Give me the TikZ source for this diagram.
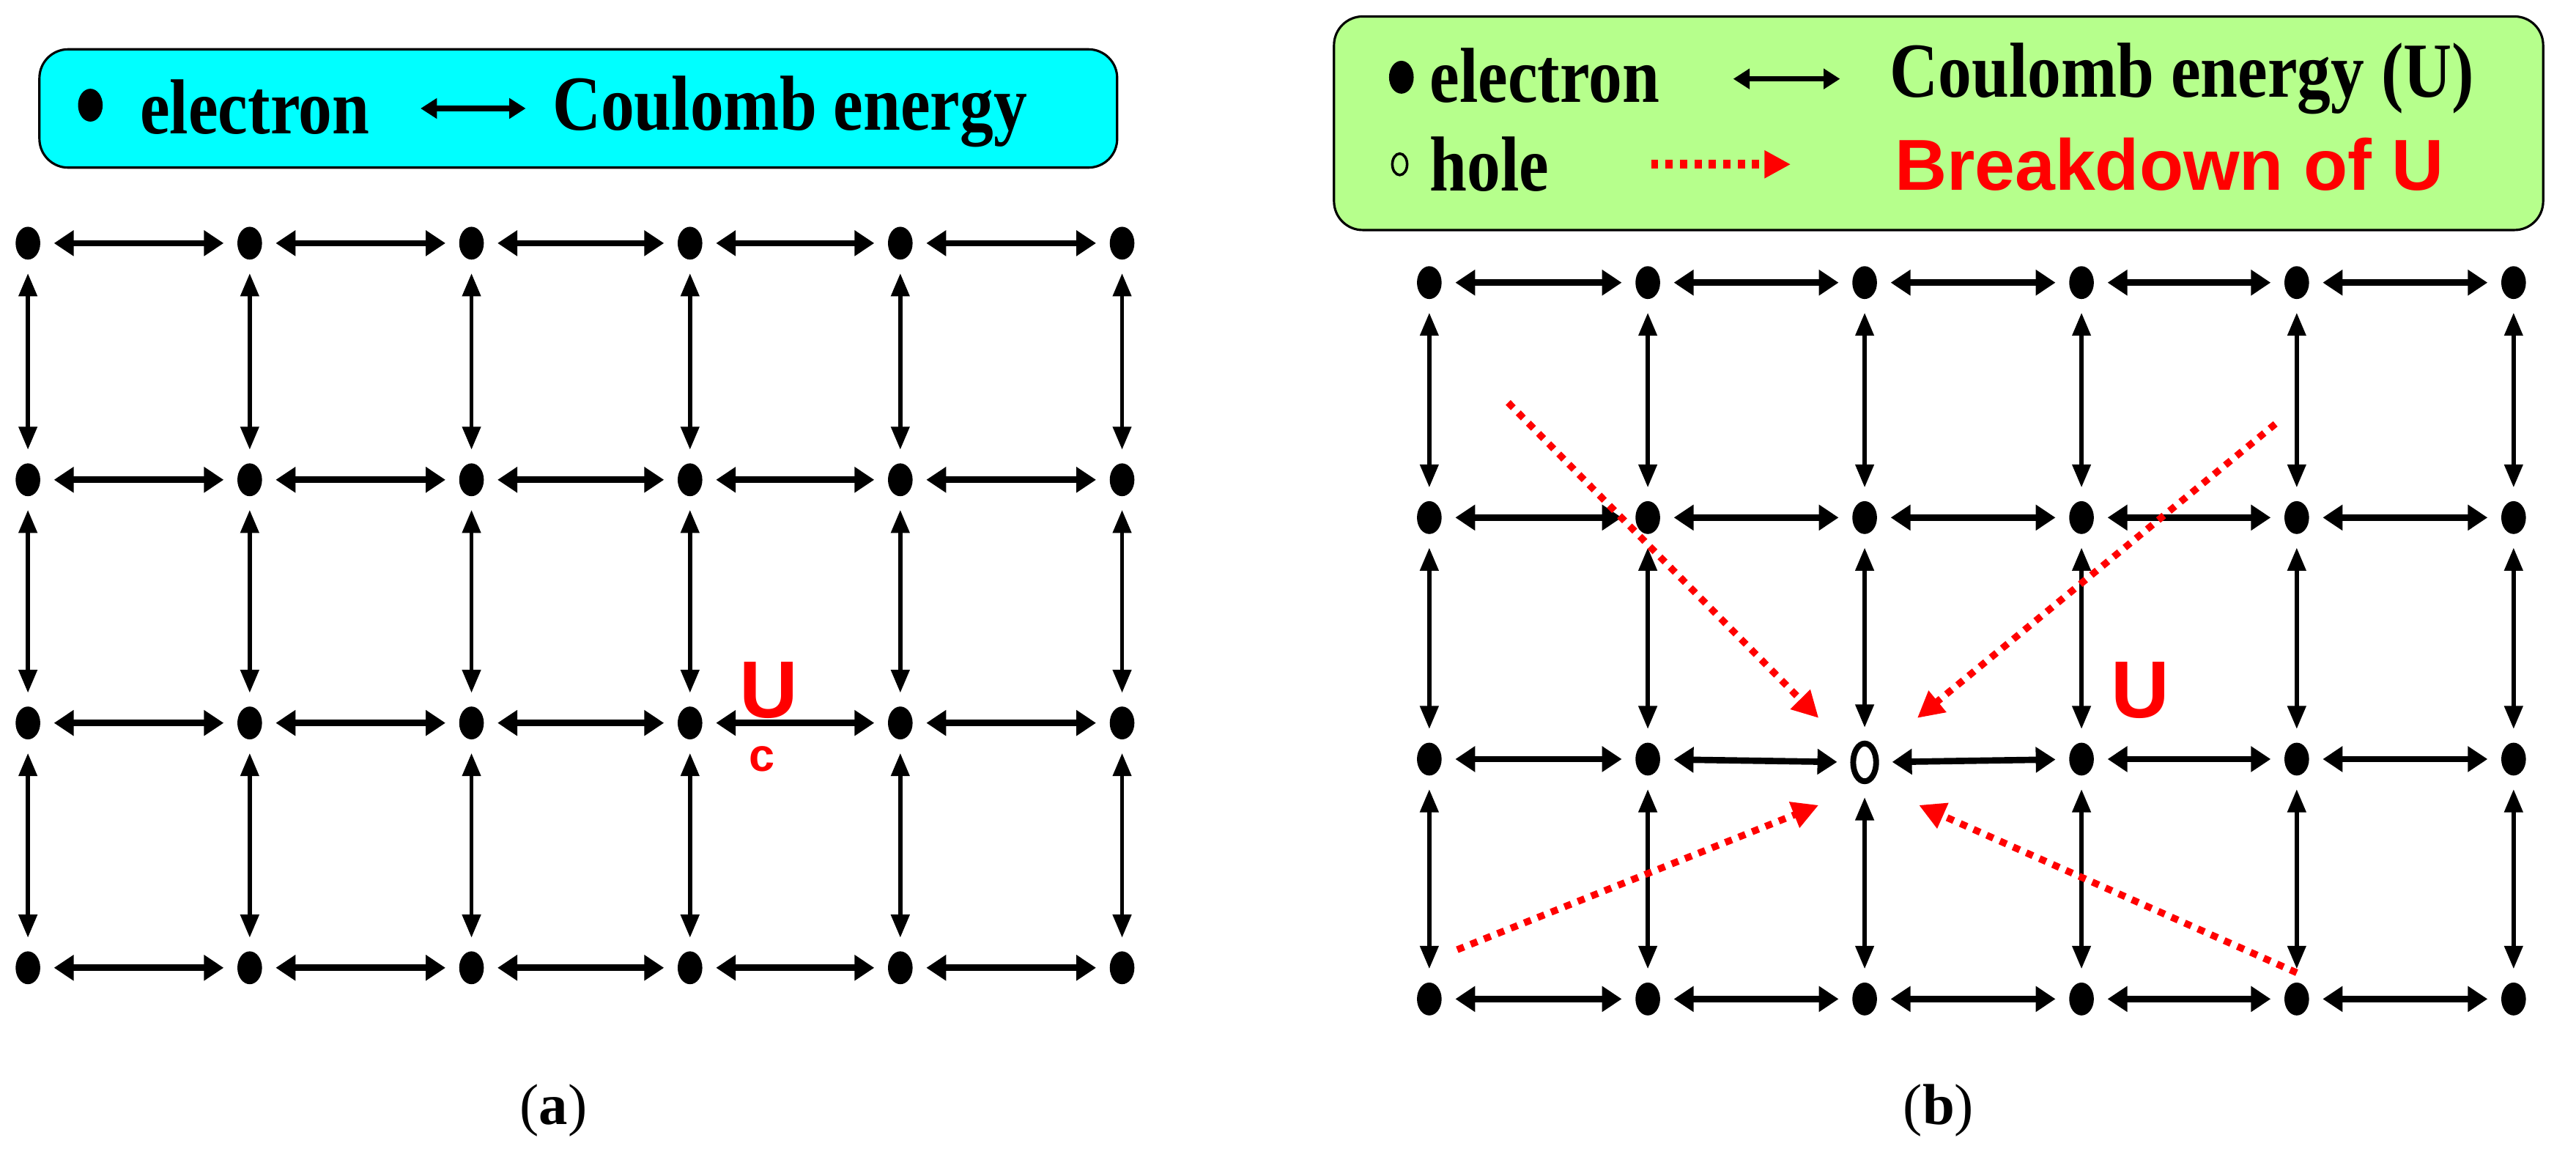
\documentclass[tikz,border=0pt]{standalone}
\usepackage{fontspec}
\setmainfont{Liberation Serif}
\newfontfamily\arialf{Liberation Sans}
\usetikzlibrary{arrows.meta,shapes.geometric}
\definecolor{cyanbox}{RGB}{0,255,255}
\definecolor{greenbox}{RGB}{182,255,140}
\definecolor{ured}{RGB}{255,0,0}
\tikzset{
  el/.style={ellipse, fill=black, inner sep=0pt, minimum width=0.3cm, minimum height=0.4cm},
  hl/.style={ellipse, draw=black, fill=white, line width=2pt, inner sep=0pt, minimum width=0.28cm, minimum height=0.46cm},
  harr/.style={{Triangle[length=0.24cm,width=0.3cm]}-{Triangle[length=0.24cm,width=0.3cm]}, line width=2.2pt, shorten >=0.16cm, shorten <=0.16cm},
  varr/.style={{Triangle[length=0.28cm,width=0.22cm]}-{Triangle[length=0.28cm,width=0.22cm]}, line width=1.4pt, shorten >=0.16cm, shorten <=0.16cm},
  rarr/.style={-{Triangle[length=0.32cm,width=0.32cm]}, ured, line width=2.4pt, dash pattern=on 2.5pt off 2.5pt},
  lbox/.style={draw=black, rounded corners=0.35cm, line width=0.8pt},
  btxt/.style={font=\fontsize{27}{28}\selectfont\bfseries, anchor=west, inner sep=0pt, xscale=0.86, transform shape},
  rtxt/.style={font=\arialf\fontsize{25}{28}\selectfont\bfseries, text=ured, anchor=west, inner sep=0pt},
}
\begin{document}
\begin{tikzpicture}[x=0.02cm,y=-0.02cm]
\useasboundingbox (0,0) rectangle (1568,704);
% ---------- panel (a) legend ----------
\draw[lbox, fill=cyanbox] (24,30) rectangle (680,102);
\node[el] (la) at (55,64) {};
\node[btxt] (lb) at (85,65) {electron};
\coordinate (lc1) at (256,66); \coordinate (lc2) at (320,66);
\draw[{Triangle[length=0.2cm,width=0.24cm]}-{Triangle[length=0.2cm,width=0.24cm]}, line width=1.8pt] (lc1) -- (lc2);
\node[btxt] (ld) at (336,68) {Coulomb energy};
% ---------- panel (a) lattice ----------
\foreach \c/\x in {1/17,2/152,3/287,4/420,5/548,6/683}{
  \foreach \r/\y in {1/148,2/292,3/440,4/589}{
    \node[el] (a\c\r) at (\x,\y) {};
  }
}
\foreach \c [evaluate=\c as \n using int(\c+1)] in {1,...,5}{
  \foreach \r in {1,...,4}{ \draw[harr] (a\c\r) -- (a\n\r); }
}
\foreach \c in {1,...,6}{
  \foreach \r [evaluate=\r as \n using int(\r+1)] in {1,2,3}{ \draw[varr] (a\c\r) -- (a\c\n); }
}
\node[font=\arialf\fontsize{28}{30}\selectfont\bfseries, text=ured] (uc) at (468,420) {U};
\node[font=\arialf\fontsize{16}{18}\selectfont\bfseries, text=ured] (ucs) at (464,462) {c};
\node[font=\fontsize{20}{22}\selectfont] (capa) at (337,676) {(\textbf{a})};
% ---------- panel (b) legend ----------
\draw[lbox, fill=greenbox] (812,10) rectangle (1548,140);
\node[el] (lbe) at (853,47) {};
\node[btxt] (lbt) at (870,46) {electron};
\coordinate (lb1) at (1055,48); \coordinate (lb2) at (1120,48);
\draw[{Triangle[length=0.2cm,width=0.24cm]}-{Triangle[length=0.2cm,width=0.24cm]}, line width=1.8pt] (lb1) -- (lb2);
\node[btxt] (lbc) at (1150,48) {Coulomb energy (U)};
\node[ellipse, draw=black, line width=0.9pt, inner sep=0pt, minimum width=0.18cm, minimum height=0.26cm] (lbh) at (852,100) {};
\node[btxt] (lbht) at (870,100) {hole};
\coordinate (lr1) at (1005,100); \coordinate (lr2) at (1090,100);
\draw[rarr, line width=3pt] (lr1) -- (lr2);
\node[rtxt] (lbr) at (1153,100) {Breakdown of U};
% ---------- panel (b) lattice ----------
\foreach \c/\x in {1/870,2/1003,3/1135,4/1267,5/1398,6/1530}{
  \foreach \r/\y in {1/172,2/315,3/462,4/608}{
    \node[el] (b\c\r) at (\x,\y) {};
  }
}
\node[hl] (b33) at (1135,464) {};
\foreach \c [evaluate=\c as \n using int(\c+1)] in {1,...,5}{
  \foreach \r in {1,...,4}{ \draw[harr] (b\c\r) -- (b\n\r); }
}
\foreach \c in {1,...,6}{
  \foreach \r [evaluate=\r as \n using int(\r+1)] in {1,2,3}{ \draw[varr] (b\c\r) -- (b\c\n); }
}
\coordinate (s1) at (918,245);  \coordinate (t1) at (1107,437);
\coordinate (s2) at (1385,258); \coordinate (t2) at (1167,437);
\coordinate (s3) at (887,578);  \coordinate (t3) at (1107,490);
\coordinate (s4) at (1398,592); \coordinate (t4) at (1168,490);
\foreach \i in {1,...,4}{ \draw[rarr] (s\i) -- (t\i); }
\node[font=\arialf\fontsize{28}{30}\selectfont\bfseries, text=ured] (ub) at (1303,420) {U};
\node[font=\fontsize{20}{22}\selectfont] (capb) at (1180,676) {(\textbf{b})};
\end{tikzpicture}
\end{document}
